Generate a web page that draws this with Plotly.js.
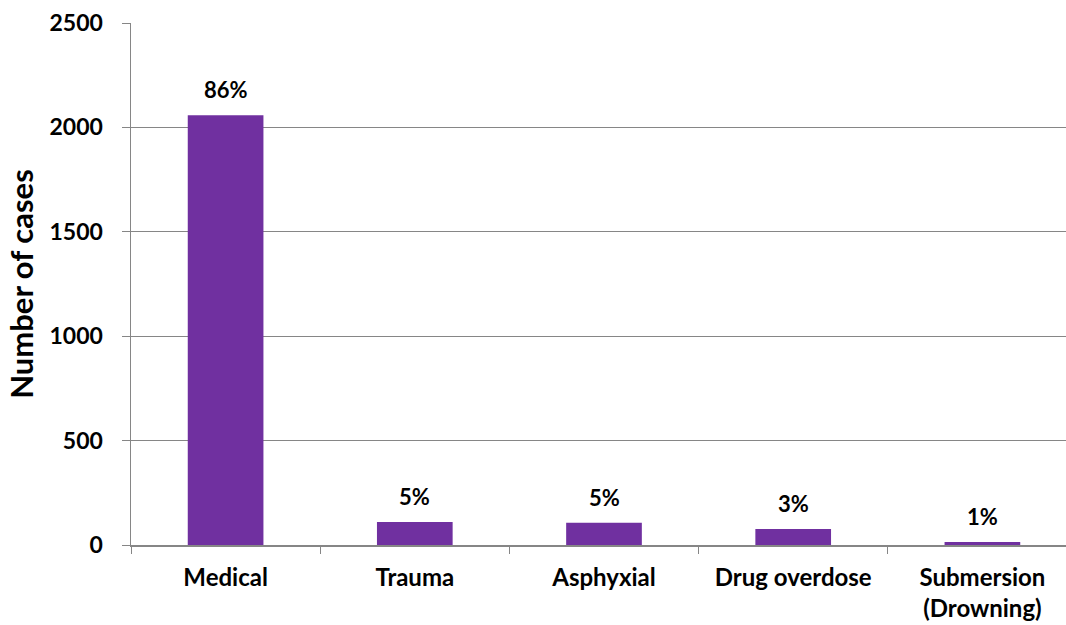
<!DOCTYPE html>
<html>
<head>
<meta charset="utf-8">
<script src="https://cdn.plot.ly/plotly-3.0.1.min.js"></script>
<style>
html,body{margin:0;padding:0;overflow:hidden;background:#fff;}
#chart{width:1080px;height:625px;}
</style>
</head>
<body>
<div id="chart"></div>
<script>
const categories = ["Medical", "Trauma", "Asphyxial", "Drug overdose", "Submersion<br>(Drowning)"];
const cases = [2058, 110, 107, 77, 14];
const percentLabels = ["86%", "5%", "5%", "3%", "1%"];
const yTicks = [0, 500, 1000, 1500, 2000, 2500];

const fam = "Lato, 'Open Sans', sans-serif";

const trace = {
  type: "bar",
  x: categories,
  y: cases,
  marker: {color: "#7030A0", line: {width: 0}},
  hoverinfo: "x+y"
};

const annotations = categories.map((c, i) => ({
  x: c, y: cases[i], xref: "x", yref: "y",
  text: "<b>" + percentLabels[i] + "</b>",
  showarrow: false, yanchor: "bottom", yshift: 10,
  font: {family: fam, size: 22, color: "#000"}
}));

const layout = {
  width: 1080, height: 625,
  margin: {l: 131, r: 3, t: 23, b: 80},
  paper_bgcolor: "#fff", plot_bgcolor: "#fff",
  bargap: 0.6,
  showlegend: false,
  font: {family: fam, size: 22, color: "#000"},
  xaxis: {
    type: "category",
    tickson: "boundaries",
    ticks: "outside", ticklen: 7, tickcolor: "#868686", tickwidth: 1,
    showline: true, linecolor: "#868686", linewidth: 2,
    showgrid: false, zeroline: false,
    tickfont: {family: fam, size: 24, color: "#000", weight: "bold"},
    ticklabelstandoff: 10
  },
  yaxis: {
    range: [0, 2500],
    tickvals: yTicks,
    ticktext: yTicks.map(String),
    ticks: "outside", ticklen: 8, tickcolor: "#868686", tickwidth: 1,
    showline: true, linecolor: "#868686", linewidth: 1.5,
    showgrid: true, gridcolor: "#868686", gridwidth: 1,
    zeroline: false,
    tickfont: {family: fam, size: 23, color: "#000", weight: "bold"},
    ticklabelstandoff: 14,
    title: {text: "<b>Number of cases</b>", font: {family: fam, size: 31, color: "#000"}, standoff: 6}
  },
  annotations: annotations
};

Plotly.newPlot("chart", [trace], layout, {displayModeBar: false, staticPlot: true});
</script>
</body>
</html>
